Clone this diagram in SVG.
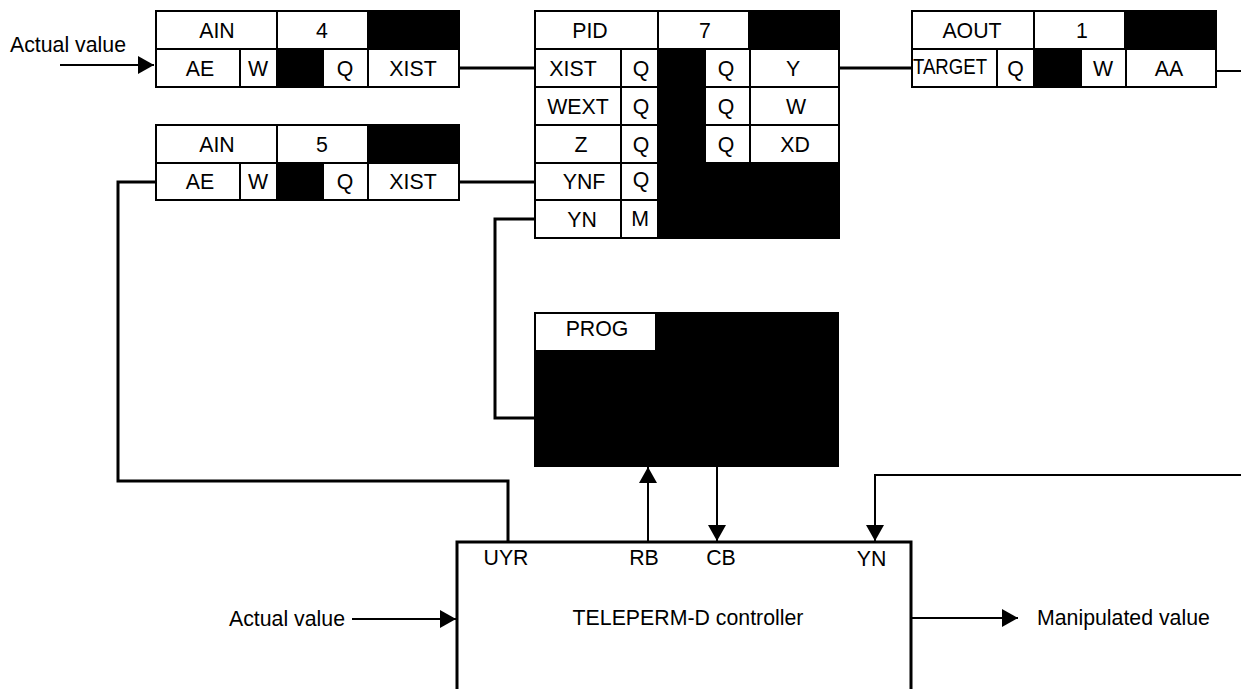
<svg xmlns="http://www.w3.org/2000/svg" width="1241" height="689" viewBox="0 0 1241 689">
<style>
text{font-family:"Liberation Sans",Arial,sans-serif;font-size:21.3px;fill:#000;text-anchor:middle}
.c{fill:#fff;stroke:#000;stroke-width:2}
.b{fill:#000;stroke:#000;stroke-width:2}
.thick{fill:none;stroke:#000;stroke-width:3}
.thin{fill:none;stroke:#000;stroke-width:2}
.l{text-anchor:start}
</style>
<defs>
<marker id="ah" markerUnits="userSpaceOnUse" markerWidth="16" markerHeight="18" refX="16" refY="9" orient="auto">
<path d="M0,0 L16,9 L0,18 z" fill="#000"/>
</marker>
</defs>
<rect width="1241" height="689" fill="#fff"/>

<g id="connectors">
<path class="thick" d="M459,68 H535"/>
<path class="thick" d="M459,182 H535"/>
<path class="thick" d="M839,68 H912"/>
<path class="thin" d="M1216,71 H1241" stroke-width="1.5"/>
<path class="thick" d="M535,219 H495 V418 H535"/>
<path class="thick" d="M156,182 H118 V481 H508 V542"/>
<path class="thin" d="M648,542 V467" marker-end="url(#ah)"/>
<path class="thin" d="M717,466 V541" marker-end="url(#ah)"/>
<path class="thin" d="M1241,475 H875 V541" marker-end="url(#ah)"/>
<path class="thin" d="M60,65 H154" marker-end="url(#ah)"/>
<path class="thin" d="M352,619 H456" marker-end="url(#ah)"/>
<path class="thin" d="M912,618 H1018" marker-end="url(#ah)"/>
</g>

<g id="ain4">
<rect class="c" x="156" y="11" width="121" height="38"/>
<rect class="c" x="277" y="11" width="91" height="38"/>
<rect class="b" x="368" y="11" width="91" height="38"/>
<rect class="c" x="156" y="49" width="84" height="38"/>
<rect class="c" x="240" y="49" width="37" height="38"/>
<rect class="b" x="277" y="49" width="46" height="38"/>
<rect class="c" x="323" y="49" width="45" height="38"/>
<rect class="c" x="368" y="49" width="91" height="38"/>
<text x="217" y="38">AIN</text>
<text x="322" y="38">4</text>
<text x="200" y="75.5">AE</text>
<text x="258" y="75.5">W</text>
<text x="345" y="75.5">Q</text>
<text x="413" y="75.5">XIST</text>
</g>

<g id="ain5">
<rect class="c" x="156" y="125" width="121" height="38"/>
<rect class="c" x="277" y="125" width="91" height="38"/>
<rect class="b" x="368" y="125" width="91" height="38"/>
<rect class="c" x="156" y="163" width="84" height="37"/>
<rect class="c" x="240" y="163" width="37" height="37"/>
<rect class="b" x="277" y="163" width="46" height="37"/>
<rect class="c" x="323" y="163" width="45" height="37"/>
<rect class="c" x="368" y="163" width="91" height="37"/>
<text x="217" y="152">AIN</text>
<text x="322" y="152">5</text>
<text x="200" y="189">AE</text>
<text x="258" y="189">W</text>
<text x="345" y="189">Q</text>
<text x="413" y="189">XIST</text>
</g>

<g id="pid">
<rect class="c" x="535" y="11" width="123" height="38"/>
<rect class="c" x="658" y="11" width="91" height="38"/>
<rect class="b" x="749" y="11" width="90" height="38"/>
<rect class="c" x="535" y="49" width="86" height="38"/>
<rect class="c" x="621" y="49" width="37" height="38"/>
<rect class="c" x="535" y="87" width="86" height="38"/>
<rect class="c" x="621" y="87" width="37" height="38"/>
<rect class="c" x="535" y="125" width="86" height="38"/>
<rect class="c" x="621" y="125" width="37" height="38"/>
<rect class="c" x="535" y="163" width="86" height="37"/>
<rect class="c" x="621" y="163" width="37" height="37"/>
<rect class="c" x="535" y="200" width="86" height="38"/>
<rect class="c" x="621" y="200" width="37" height="38"/>
<rect class="b" x="658" y="49" width="47" height="189"/>
<rect class="c" x="705" y="49" width="45" height="38"/>
<rect class="c" x="750" y="49" width="89" height="38"/>
<rect class="c" x="705" y="87" width="45" height="38"/>
<rect class="c" x="750" y="87" width="89" height="38"/>
<rect class="c" x="705" y="125" width="45" height="38"/>
<rect class="c" x="750" y="125" width="89" height="38"/>
<rect class="b" x="705" y="163" width="134" height="75"/>
<text x="590" y="38">PID</text>
<text x="705" y="38">7</text>
<text x="573" y="75.5">XIST</text>
<text x="641" y="75.5">Q</text>
<text x="726" y="75.5">Q</text>
<text x="793" y="75.5">Y</text>
<text x="578" y="113.5">WEXT</text>
<text x="641" y="113.5">Q</text>
<text x="726" y="113.5">Q</text>
<text x="796" y="113.5">W</text>
<text x="581" y="151.5">Z</text>
<text x="641" y="151.5">Q</text>
<text x="726" y="151.5">Q</text>
<text x="795" y="151.5">XD</text>
<text x="584" y="189">YNF</text>
<text x="641" y="187">Q</text>
<text x="582" y="227">YN</text>
<text x="640" y="226">M</text>
</g>

<g id="aout">
<rect class="c" x="912" y="11" width="122" height="38"/>
<rect class="c" x="1034" y="11" width="91" height="38"/>
<rect class="b" x="1125" y="11" width="91" height="38"/>
<rect class="c" x="912" y="49" width="85" height="38"/>
<rect class="c" x="997" y="49" width="37" height="38"/>
<rect class="b" x="1034" y="49" width="47" height="38"/>
<rect class="c" x="1081" y="49" width="45" height="38"/>
<rect class="c" x="1126" y="49" width="90" height="38"/>
<text x="972" y="38">AOUT</text>
<text x="1082" y="38">1</text>
<text class="l" x="913" y="74" textLength="74" lengthAdjust="spacingAndGlyphs">TARGET</text>
<text x="1015.5" y="75.5">Q</text>
<text x="1103" y="75.5">W</text>
<text x="1169" y="75.5">AA</text>
</g>

<g id="prog">
<rect class="b" x="535" y="313" width="303" height="153"/>
<rect fill="#fff" x="536" y="314" width="119" height="36"/>
<text x="597" y="336">PROG</text>
</g>

<g id="controller">
<path class="thick" d="M457,700 V542 H911 V700"/>
<text x="506" y="565">UYR</text>
<text x="644" y="565">RB</text>
<text x="721" y="565">CB</text>
<text x="871.5" y="566">YN</text>
<text x="688" y="625">TELEPERM-D controller</text>
</g>

<g id="labels">
<text class="l" x="10" y="51.5">Actual value</text>
<text class="l" x="229" y="626">Actual value</text>
<text class="l" x="1037" y="625">Manipulated value</text>
</g>
</svg>
